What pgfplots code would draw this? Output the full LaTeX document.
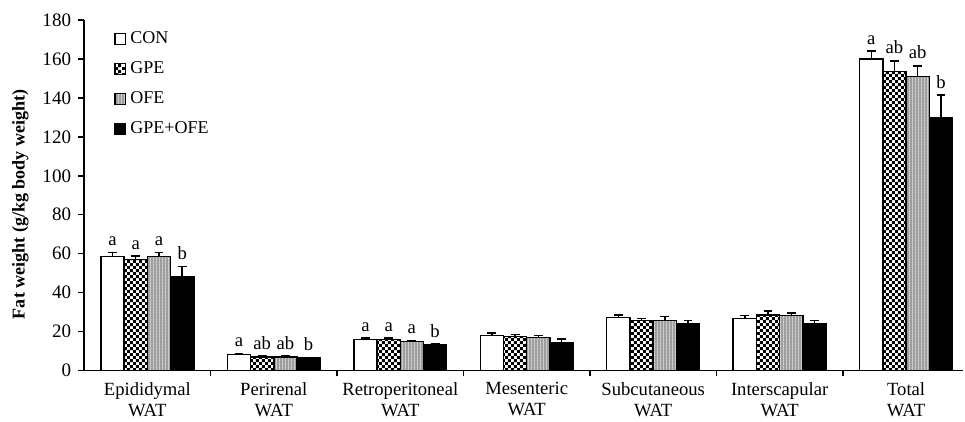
\documentclass[border=0pt]{standalone}
\usepackage{fontspec}
\setmainfont{Liberation Serif}
\usepackage{pgfplots}
\usepackage{pgfplotstable}
\pgfplotsset{compat=1.18}
\usetikzlibrary{patterns}

\pgfdeclarepatternformonly{mychecker}{\pgfpointorigin}{\pgfqpoint{3.2pt}{3.2pt}}{\pgfqpoint{3.2pt}{3.2pt}}{%
  \pgfpathrectangle{\pgfpointorigin}{\pgfqpoint{1.6pt}{1.6pt}}%
  \pgfpathrectangle{\pgfqpoint{1.6pt}{1.6pt}}{\pgfqpoint{1.6pt}{1.6pt}}%
  \pgfusepath{fill}}
\pgfdeclarepatternformonly{myvlines}{\pgfpointorigin}{\pgfqpoint{1.6pt}{1.6pt}}{\pgfqpoint{1.6pt}{1.6pt}}{%
  \pgfpathrectangle{\pgfpointorigin}{\pgfqpoint{0.55pt}{1.6pt}}%
  \pgfusepath{fill}}

\pgfplotstableread{
x y err lab
0 58.5 2.0 a
1 8.2 0.6 a
2 15.8 0.8 a
3 18.0 1.2 {}
4 27.1 1.5 {}
5 26.6 1.7 {}
6 160.0 4.0 a
}\tcon
\pgfplotstableread{
x y err lab
0 57.0 1.8 a
1 6.9 0.5 ab
2 15.8 0.8 a
3 17.5 1.0 {}
4 25.7 1.0 {}
5 28.6 1.9 {}
6 153.5 5.5 ab
}\tgpe
\pgfplotstableread{
x y err lab
0 58.5 2.2 a
1 6.9 0.5 ab
2 14.8 0.6 a
3 17.0 1.0 {}
4 25.7 2.1 {}
5 28.3 1.2 {}
6 151.0 5.5 ab
}\tofe
\pgfplotstableread{
x y err lab
0 48.0 5.5 b
1 6.3 0.5 b
2 13.0 0.6 b
3 14.2 2.0 {}
4 24.0 1.7 {}
5 24.0 1.7 {}
6 130.0 11.5 b
}\tgo

\begin{document}
\begin{tikzpicture}
\begin{axis}[
  scale only axis,
  width=438.85pt, height=175pt,
  xmin=-0.5, xmax=6.45,
  ymin=0, ymax=180,
  ytick distance=20,
  axis lines*=left,
  axis line style={line width=0.75pt, black},
  tick style={line width=0.75pt, black},
  tick align=outside,
  major tick length=3pt,
  /pgf/number format/assume math mode=true,
  tick label style={font=\fontsize{9.5}{10}\selectfont},
  xtick={0.5,1.5,2.5,3.5,4.5,5.5},
  xticklabels={},
  extra x ticks={0,1,2,3,4,5,6},
  extra x tick labels={Epididymal\\WAT, Perirenal\\WAT, Retroperitoneal\\WAT, Mesenteric\\WAT, Subcutaneous\\WAT, Interscapular\\WAT, Total\\WAT},
  extra x tick style={major tick length=0pt, tick label style={align=center, yshift=-2.5pt, font=\fontsize{9.3}{10.5}\selectfont}},
  every axis y label/.style={at={(axis description cs:-0.0725,0.474)}, rotate=90, anchor=center},
  ylabel={\bfseries Fat weight (g/kg body weight)},
  ylabel style={font=\fontsize{9}{10}\selectfont},
  ybar=0pt, bar width=11.6pt,
  point meta=explicit symbolic,
  nodes near coords,
  visualization depends on={\thisrow{err} \as \myerr},
  every node near coord/.append style={shift={(axis direction cs:0,\myerr)}, yshift=2pt, anchor=south, inner sep=1pt, font=\fontsize{9.3}{10}\selectfont, black},
  error bars/y dir=plus,
  error bars/y explicit,
  error bars/error bar style={line width=0.75pt, black},
  error bars/error mark options={rotate=90, mark size=2.2pt, line width=0.75pt, black},
  legend style={draw=none, fill=none, at={(axis description cs:0.034,0.98)}, anchor=north west,
    font=\fontsize{9}{10}\selectfont, row sep=3.6pt, inner sep=0pt,
    /tikz/every even column/.append style={column sep=0pt}},
  legend cell align=left,
  legend image code/.code={\draw[#1, line width=0.6pt] (0pt,-2.7pt) rectangle (5.4pt,2.7pt);},
]
\addplot[draw=black, line width=0.75pt, fill=white] table[x=x, y=y, y error=err, meta=lab] {\tcon};
\addlegendentry{CON}
\addplot[draw=black, line width=0.75pt, fill=white, postaction={pattern=mychecker, pattern color=black}] table[x=x, y=y, y error=err, meta=lab] {\tgpe};
\addlegendentry{GPE}
\addplot[draw=black, line width=0.75pt, fill=black!38, postaction={pattern=myvlines, pattern color=black!18}] table[x=x, y=y, y error=err, meta=lab] {\tofe};
\addlegendentry{OFE}
\addplot[draw=black, line width=0.75pt, fill=black] table[x=x, y=y, y error=err, meta=lab] {\tgo};
\addlegendentry{GPE+OFE}
\end{axis}
\pgfresetboundingbox
\path (-42pt,-25.5pt) rectangle (439.85pt,185pt);
\end{tikzpicture}
\end{document}
